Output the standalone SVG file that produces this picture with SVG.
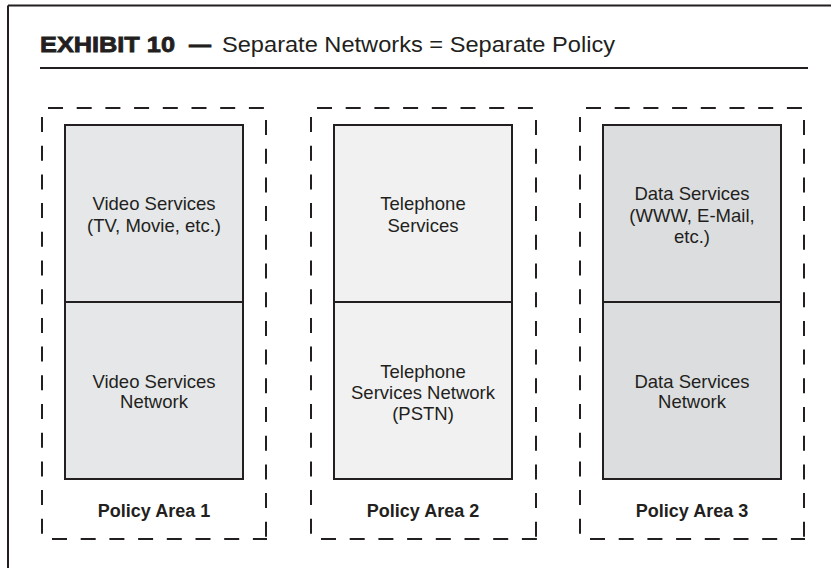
<svg xmlns="http://www.w3.org/2000/svg" width="835" height="568" viewBox="0 0 835 568">
  <style>
    .frame { stroke: #231f20; stroke-width: 2; fill: none; }
    .dash { stroke: #231f20; stroke-width: 2; fill: none; stroke-dasharray: 15 13.7; }
    .box { stroke: #231f20; stroke-width: 2; }
    .video { fill: #e6e7e8; }
    .phone { fill: #f1f1f1; }
    .data { fill: #dcdddf; }
    .lbl { font-family: "Liberation Sans", Arial, sans-serif; font-size: 18.5px; fill: #231f20; text-anchor: middle; }
    .area { font-family: "Liberation Sans", Arial, sans-serif; font-size: 18px; font-weight: bold; fill: #231f20; text-anchor: middle; }
    .title { font-family: "Liberation Sans", Arial, sans-serif; fill: #231f20; }
    .heavy { stroke: #231f20; stroke-width: 0.8; }
  </style>

  <rect width="835" height="568" fill="#ffffff"/>

  <!-- page frame -->
  <path class="frame" d="M8,5.5 H831 M8,5.5 V568"/>

  <!-- heading -->
  <g id="heading">
    <text class="title heavy" x="40" y="52" font-size="22" font-weight="bold" textLength="135" lengthAdjust="spacingAndGlyphs">EXHIBIT 10</text>
    <text class="title heavy" x="189" y="52" font-size="22" font-weight="bold">—</text>
    <text class="title" x="222" y="52" font-size="22" textLength="393" lengthAdjust="spacingAndGlyphs">Separate Networks = Separate Policy</text>
    <path class="frame" d="M40,68 H808"/>
  </g>

  <!-- policy area 1 -->
  <g id="policy-area-1">
    <path class="dash" d="M48,108 H266 M42,117 V539 M266,120 V539 M52,539 H267"/>
    <text class="area" x="154" y="517">Policy Area 1</text>
  </g>
  <g id="video-services">
    <rect class="box video" x="65" y="125" width="178" height="177"/>
    <text class="lbl" x="154" y="210">Video Services</text>
    <text class="lbl" x="154" y="232">(TV, Movie, etc.)</text>
  </g>
  <g id="video-network">
    <rect class="box video" x="65" y="302" width="178" height="177"/>
    <text class="lbl" x="154" y="388">Video Services</text>
    <text class="lbl" x="154" y="408">Network</text>
  </g>

  <!-- policy area 2 -->
  <g id="policy-area-2">
    <path class="dash" d="M317,108 H536 M311,117 V539 M536,120 V539 M321,539 H537"/>
    <text class="area" x="423" y="517">Policy Area 2</text>
  </g>
  <g id="telephone-services">
    <rect class="box phone" x="334" y="125" width="178" height="177"/>
    <text class="lbl" x="423" y="210">Telephone</text>
    <text class="lbl" x="423" y="232">Services</text>
  </g>
  <g id="telephone-network">
    <rect class="box phone" x="334" y="302" width="178" height="177"/>
    <text class="lbl" x="423" y="378">Telephone</text>
    <text class="lbl" x="423" y="399">Services Network</text>
    <text class="lbl" x="423" y="420">(PSTN)</text>
  </g>

  <!-- policy area 3 -->
  <g id="policy-area-3">
    <path class="dash" d="M586,108 H804 M580,117 V539 M804,120 V539 M590,539 H805"/>
    <text class="area" x="692" y="517">Policy Area 3</text>
  </g>
  <g id="data-services">
    <rect class="box data" x="603" y="125" width="178" height="177"/>
    <text class="lbl" x="692" y="200">Data Services</text>
    <text class="lbl" x="692" y="222">(WWW, E-Mail,</text>
    <text class="lbl" x="692" y="243">etc.)</text>
  </g>
  <g id="data-network">
    <rect class="box data" x="603" y="302" width="178" height="177"/>
    <text class="lbl" x="692" y="388">Data Services</text>
    <text class="lbl" x="692" y="408">Network</text>
  </g>

  <!-- no connectors between areas -->
  <g id="connectors"/>
</svg>
